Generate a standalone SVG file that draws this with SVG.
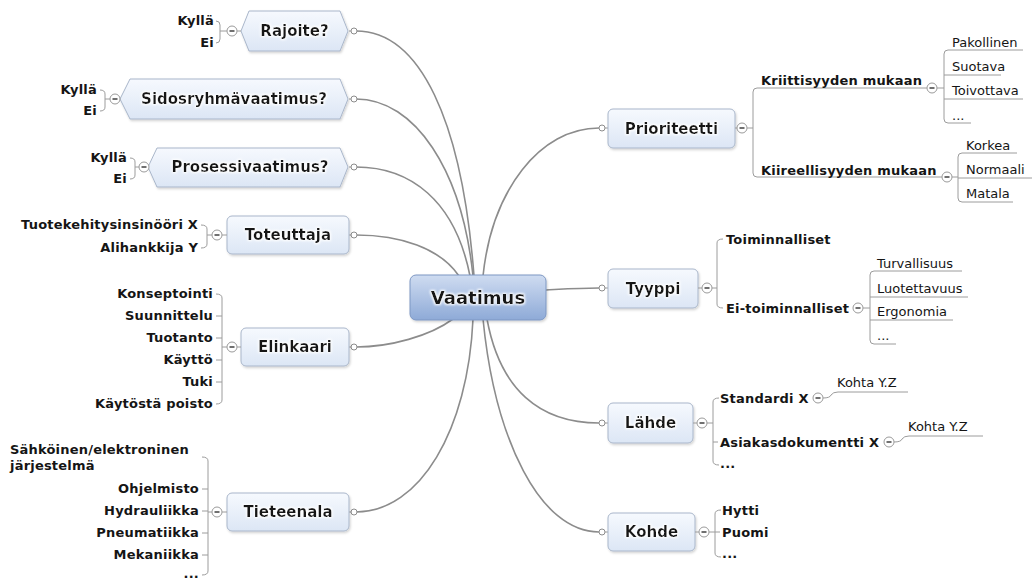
<svg xmlns="http://www.w3.org/2000/svg" xmlns:xlink="http://www.w3.org/1999/xlink" width="1035" height="580" viewBox="0 0 1035 580">
  <defs>
    <linearGradient id="nodeFill" x1="0" y1="0" x2="0" y2="1">
      <stop offset="0" stop-color="#f6f9fe"/>
      <stop offset="1" stop-color="#dce6f5"/>
    </linearGradient>
    <linearGradient id="rootFill" x1="0" y1="0" x2="0" y2="1">
      <stop offset="0" stop-color="#cfdcf1"/>
      <stop offset="1" stop-color="#8eaad7"/>
    </linearGradient>
    <filter id="shadow" x="-10%" y="-20%" width="130%" height="150%">
      <feDropShadow dx="1" dy="1.5" stdDeviation="1.2" flood-color="#000" flood-opacity="0.18"/>
    </filter>
    <filter id="halo" x="-10%" y="-30%" width="120%" height="160%">
      <feMorphology in="SourceAlpha" operator="dilate" radius="1.2" result="d"/>
      <feGaussianBlur in="d" stdDeviation="1.2" result="b"/>
      <feFlood flood-color="#ffffff"/>
      <feComposite in2="b" operator="in" result="w"/>
      <feMerge><feMergeNode in="w"/><feMergeNode in="SourceGraphic"/></feMerge>
    </filter>
    <!-- collapse toggle and connection dot -->
    <g id="tog">
      <circle r="5" fill="#fff" stroke="#9a9a9a" stroke-width="1"/>
      <line x1="-2.5" y1="0" x2="2.5" y2="0" stroke="#333" stroke-width="1.4"/>
    </g>
    <circle id="dot" r="3" fill="#fff" stroke="#8c8c8c" stroke-width="1"/>
  </defs>
  <style>
    text { font-family: "DejaVu Sans", Verdana, sans-serif; fill: #151515; }
    .lbl { font-size: 15px; font-weight: bold; text-anchor: middle; }
    .root { font-size: 18px; font-weight: bold; text-anchor: middle; }
    .sub { font-size: 13px; font-weight: bold; letter-spacing: 0.2px; }
    .leaf { font-size: 13px; }
    .end { text-anchor: end; }
    .box { fill: url(#nodeFill); stroke: #a9b6ca; stroke-width: 1; }
    .conn { fill: none; stroke: #8c8c8c; stroke-width: 1.6; }
    .br { fill: none; stroke: #9c9c9c; stroke-width: 1; }
  </style>

  <rect width="1035" height="580" fill="#fff"/>

  <!-- curved branches from the central topic -->
  <g id="connectors">
    <path class="conn" d="M356,31 C420,31 462,120 474,276"/>
    <path class="conn" d="M356,99 C415,99 462,170 473,276"/>
    <path class="conn" d="M356,167 C410,167 455,200 470,276"/>
    <path class="conn" d="M356,235 C400,235 440,248 459,276"/>
    <path class="conn" d="M453,319 C430,336 390,347 356,347"/>
    <path class="conn" d="M473,319 C468,430 420,512 356,512"/>
    <path class="conn" d="M483,276 C492,190 540,128 599,128"/>
    <path class="conn" d="M546,290 C565,289 580,288 599,288"/>
    <path class="conn" d="M487,319 C500,390 540,423 599,423"/>
    <path class="conn" d="M483,319 C495,440 540,532 599,532"/>
    <!-- short stubs between dots and node borders -->
    <path class="br" d="M349,31 L351,31 M349,99 L351,99 M349,167 L351,167 M349,235 L351,235 M349,347 L351,347 M349,512 L351,512"/>
    <path class="br" d="M605,128 L608,128 M605,288 L608,288 M605,423 L608,423 M605,532 L608,532"/>
    <use href="#dot" x="354" y="31"/>
    <use href="#dot" x="354" y="99"/>
    <use href="#dot" x="354" y="167"/>
    <use href="#dot" x="354" y="235"/>
    <use href="#dot" x="354" y="347"/>
    <use href="#dot" x="354" y="512"/>
    <use href="#dot" x="602" y="128"/>
    <use href="#dot" x="602" y="288"/>
    <use href="#dot" x="602" y="423"/>
    <use href="#dot" x="602" y="532"/>
  </g>

  <!-- central topic -->
  <g id="vaatimus">
    <rect x="410" y="275" width="136" height="45" rx="6" fill="url(#rootFill)" stroke="#7d97c3" stroke-width="1" filter="url(#shadow)"/>
    <text class="root" x="478" y="304" filter="url(#halo)">Vaatimus</text>
  </g>

  <!-- left side -->
  <g id="rajoite">
    <polygon class="box" points="241,31 249,11 340,11 348,31 340,51 249,51" filter="url(#shadow)"/>
    <text class="lbl" x="294.5" y="36" filter="url(#halo)">Rajoite?</text>
    <path class="br" d="M216,21 Q220,21 220,25 L220,39 Q220,43 216,43 M220,31 L227,31 M237,31 L241,31"/>
    <use href="#tog" x="232" y="31"/>
    <text class="sub end" x="214" y="25">Kyllä</text>
    <text class="sub end" x="214" y="47">Ei</text>
  </g>

  <g id="sidosryhmavaatimus">
    <polygon class="box" points="120,99 130,79 340,79 348,99 340,119 130,119" filter="url(#shadow)"/>
    <text class="lbl" x="234" y="104" filter="url(#halo)">Sidosryhmävaatimus?</text>
    <path class="br" d="M100,90 Q105,90 105,94 L105,107 Q105,111 100,111 M105,99 L110,99"/>
    <use href="#tog" x="115" y="99"/>
    <text class="sub end" x="97" y="94">Kyllä</text>
    <text class="sub end" x="97" y="115">Ei</text>
  </g>

  <g id="prosessivaatimus">
    <polygon class="box" points="148,167 157,148 340,148 348,167 340,187 157,187" filter="url(#shadow)"/>
    <text class="lbl" x="250" y="172" filter="url(#halo)">Prosessivaatimus?</text>
    <path class="br" d="M130,158 Q135,158 135,162 L135,175 Q135,179 130,179 M135,167 L139,167"/>
    <use href="#tog" x="144" y="167"/>
    <text class="sub end" x="127" y="162">Kyllä</text>
    <text class="sub end" x="127" y="183">Ei</text>
  </g>

  <g id="toteuttaja">
    <rect class="box" x="227" y="216" width="122" height="38" rx="5" filter="url(#shadow)"/>
    <text class="lbl" x="288" y="240" filter="url(#halo)">Toteuttaja</text>
    <path class="br" d="M201,225 Q207,225 207,229 L207,244 Q207,248 201,248 M207,235 L212,235 M222,235 L227,235"/>
    <use href="#tog" x="217" y="235"/>
    <text class="sub end" x="198" y="229">Tuotekehitysinsinööri X</text>
    <text class="sub end" x="198" y="252">Alihankkija Y</text>
  </g>

  <g id="elinkaari">
    <rect class="box" x="241" y="328" width="108" height="38" rx="5" filter="url(#shadow)"/>
    <text class="lbl" x="295" y="352" filter="url(#halo)">Elinkaari</text>
    <path class="br" d="M216,294 Q222,294 222,298 L222,400 Q222,404 216,404 M216,316 L222,316 M216,338 L222,338 M216,360 L222,360 M216,382 L222,382 M222,347 L227,347 M237,347 L241,347"/>
    <use href="#tog" x="232" y="347"/>
    <text class="sub end" x="213" y="298">Konseptointi</text>
    <text class="sub end" x="213" y="320">Suunnittelu</text>
    <text class="sub end" x="213" y="342">Tuotanto</text>
    <text class="sub end" x="213" y="364">Käyttö</text>
    <text class="sub end" x="213" y="386">Tuki</text>
    <text class="sub end" x="213" y="408">Käytöstä poisto</text>
  </g>

  <g id="tieteenala">
    <rect class="box" x="227" y="493" width="122" height="38" rx="5" filter="url(#shadow)"/>
    <text class="lbl" x="288" y="517" filter="url(#halo)">Tieteenala</text>
    <path class="br" d="M202,457 Q208,457 208,461 L208,571 Q208,575 202,575 M202,489 L208,489 M202,511 L208,511 M202,533 L208,533 M202,555 L208,555 M208,512 L212,512 M222,512 L227,512"/>
    <use href="#tog" x="217" y="512"/>
    <text class="sub" x="10" y="454">Sähköinen/elektroninen</text>
    <text class="sub" x="10" y="470">järjestelmä</text>
    <text class="sub end" x="199" y="493">Ohjelmisto</text>
    <text class="sub end" x="199" y="515">Hydrauliikka</text>
    <text class="sub end" x="199" y="537">Pneumatiikka</text>
    <text class="sub end" x="199" y="559">Mekaniikka</text>
    <text class="sub end" x="199" y="578">...</text>
  </g>

  <!-- right side -->
  <g id="prioriteetti">
    <rect class="box" x="608" y="109" width="127" height="39" rx="5" filter="url(#shadow)"/>
    <text class="lbl" x="671.5" y="133.5" filter="url(#halo)">Prioriteetti</text>
    <path class="br" d="M735,128 L737,128 M747,128 L753,128 M757,88 Q753,88 753,92 L753,173 Q753,177 757,177 M757,88 L927,88 M757,177 L942,177"/>
    <use href="#tog" x="742" y="128"/>
    <text class="sub" x="761" y="85">Kriittisyyden mukaan</text>
    <text class="sub" x="761" y="175">Kiireellisyyden mukaan</text>

    <path class="br" d="M937,88 L944,88 M948,50 Q944,50 944,54 L944,119 Q944,123 948,123 M948,50 L1023,50 M944,75 L1001,75 M944,99 L1023,99 M948,123 L971,123"/>
    <use href="#tog" x="932" y="88"/>
    <text class="leaf" x="952" y="47">Pakollinen</text>
    <text class="leaf" x="952" y="71">Suotava</text>
    <text class="leaf" x="952" y="95">Toivottava</text>
    <text class="leaf" x="952" y="120">...</text>

    <path class="br" d="M952,177 L958,177 M962,153 Q958,153 958,157 L958,198 Q958,202 962,202 M962,153 L1017,153 M958,178 L1032,178 M962,202 L1013,202"/>
    <use href="#tog" x="947" y="177"/>
    <text class="leaf" x="966" y="150">Korkea</text>
    <text class="leaf" x="966" y="174">Normaali</text>
    <text class="leaf" x="966" y="198">Matala</text>
  </g>

  <g id="tyyppi">
    <rect class="box" x="608" y="269" width="90" height="39" rx="5" filter="url(#shadow)"/>
    <text class="lbl" x="653" y="293.5" filter="url(#halo)">Tyyppi</text>
    <path class="br" d="M698,288 L702,288 M712,288 L717,288 M723,239 Q717,239 717,243 L717,304 Q717,308 723,308"/>
    <use href="#tog" x="707" y="288"/>
    <text class="sub" x="726" y="244">Toiminnalliset</text>
    <text class="sub" x="726" y="313">Ei-toiminnalliset</text>

    <path class="br" d="M863,308 L870,308 M874,271 Q870,271 870,275 L870,340 Q870,344 874,344 M874,271 L962,271 M870,297 L968,297 M870,320 L953,320 M874,344 L896,344"/>
    <use href="#tog" x="858" y="308"/>
    <text class="leaf" x="877" y="268">Turvallisuus</text>
    <text class="leaf" x="877" y="293">Luotettavuus</text>
    <text class="leaf" x="877" y="316">Ergonomia</text>
    <text class="leaf" x="877" y="340">...</text>
  </g>

  <g id="lahde">
    <rect class="box" x="608" y="403" width="85" height="40" rx="5" filter="url(#shadow)"/>
    <text class="lbl" x="650.5" y="428" filter="url(#halo)">Lähde</text>
    <path class="br" d="M693,423 L697,423 M707,423 L713,423 M719,398 Q713,398 713,402 L713,461 Q713,465 719,465 M713,442 L718,442"/>
    <use href="#tog" x="702" y="423"/>
    <text class="sub" x="720" y="403">Standardi X</text>
    <text class="sub" x="720" y="447">Asiakasdokumentti X</text>
    <text class="sub" x="720" y="468">...</text>

    <path class="br" d="M823,398 Q830,398 831,395 Q833,392 838,392 L908,392"/>
    <use href="#tog" x="818" y="398"/>
    <text class="leaf" x="837" y="387">Kohta Y.Z</text>

    <path class="br" d="M894,442 Q901,442 902,439 Q904,436 909,436 L983,436"/>
    <use href="#tog" x="889" y="442"/>
    <text class="leaf" x="908" y="431">Kohta Y.Z</text>
  </g>

  <g id="kohde">
    <rect class="box" x="608" y="513" width="87" height="38" rx="5" filter="url(#shadow)"/>
    <text class="lbl" x="651.5" y="537" filter="url(#halo)">Kohde</text>
    <path class="br" d="M695,532 L699,532 M709,532 L715,532 M721,510 Q715,510 715,514 L715,553 Q715,557 721,557 M715,532 L720,532"/>
    <use href="#tog" x="704" y="532"/>
    <text class="sub" x="722" y="515">Hytti</text>
    <text class="sub" x="722" y="537">Puomi</text>
    <text class="sub" x="722" y="558">...</text>
  </g>
</svg>
